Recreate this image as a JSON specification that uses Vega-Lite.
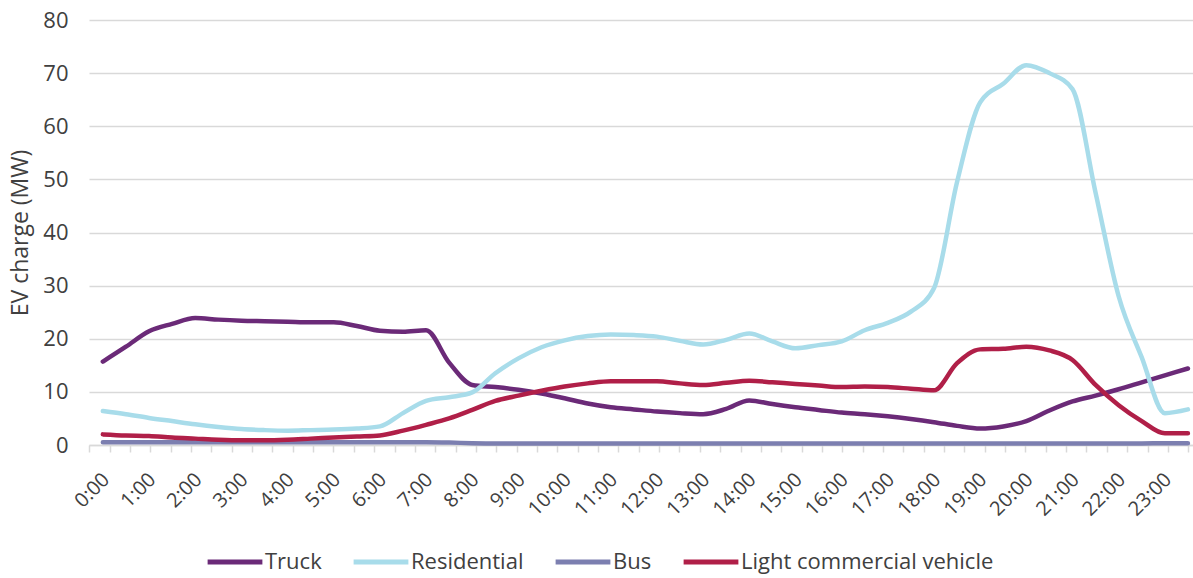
{
  "$schema": "https://vega.github.io/schema/vega-lite/v6.json",
  "width": 1104,
  "height": 425,
  "autosize": {"type": "none"},
  "padding": {"left": 89, "top": 20, "right": 0, "bottom": 133},
  "background": "white",
  "config": {"font": "Open Sans", "view": {"stroke": null}},
  "data": {"values": [
    {"t":0,"Truck":15.7,"Residential":6.4,"Bus":0.5,"Light commercial vehicle":2.0},
    {"t":0.5,"Truck":18.5,"Residential":5.8,"Bus":0.5,"Light commercial vehicle":1.8},
    {"t":1,"Truck":21.4,"Residential":5.1,"Bus":0.5,"Light commercial vehicle":1.7},
    {"t":1.5,"Truck":22.8,"Residential":4.5,"Bus":0.5,"Light commercial vehicle":1.4},
    {"t":2,"Truck":23.9,"Residential":3.9,"Bus":0.5,"Light commercial vehicle":1.2},
    {"t":2.5,"Truck":23.6,"Residential":3.4,"Bus":0.5,"Light commercial vehicle":1.0},
    {"t":3,"Truck":23.4,"Residential":3.0,"Bus":0.5,"Light commercial vehicle":0.9},
    {"t":3.5,"Truck":23.3,"Residential":2.8,"Bus":0.5,"Light commercial vehicle":0.9},
    {"t":4,"Truck":23.2,"Residential":2.7,"Bus":0.5,"Light commercial vehicle":1.0},
    {"t":4.5,"Truck":23.1,"Residential":2.8,"Bus":0.5,"Light commercial vehicle":1.2},
    {"t":5,"Truck":23.1,"Residential":2.9,"Bus":0.5,"Light commercial vehicle":1.4},
    {"t":5.5,"Truck":22.4,"Residential":3.1,"Bus":0.5,"Light commercial vehicle":1.6},
    {"t":6,"Truck":21.5,"Residential":3.5,"Bus":0.5,"Light commercial vehicle":1.8},
    {"t":6.5,"Truck":21.3,"Residential":6.0,"Bus":0.5,"Light commercial vehicle":2.7},
    {"t":7,"Truck":21.6,"Residential":8.3,"Bus":0.5,"Light commercial vehicle":3.8},
    {"t":7.5,"Truck":15.5,"Residential":9.0,"Bus":0.45,"Light commercial vehicle":5.0},
    {"t":8,"Truck":11.3,"Residential":9.9,"Bus":0.35,"Light commercial vehicle":6.6},
    {"t":8.5,"Truck":10.9,"Residential":13.5,"Bus":0.3,"Light commercial vehicle":8.3},
    {"t":9,"Truck":10.4,"Residential":16.3,"Bus":0.3,"Light commercial vehicle":9.3},
    {"t":9.5,"Truck":9.7,"Residential":18.4,"Bus":0.3,"Light commercial vehicle":10.2},
    {"t":10,"Truck":8.8,"Residential":19.7,"Bus":0.3,"Light commercial vehicle":11.0},
    {"t":10.5,"Truck":7.8,"Residential":20.5,"Bus":0.3,"Light commercial vehicle":11.6},
    {"t":11,"Truck":7.1,"Residential":20.8,"Bus":0.3,"Light commercial vehicle":12.0},
    {"t":11.5,"Truck":6.7,"Residential":20.7,"Bus":0.3,"Light commercial vehicle":12.0},
    {"t":12,"Truck":6.3,"Residential":20.4,"Bus":0.3,"Light commercial vehicle":12.0},
    {"t":12.5,"Truck":6.0,"Residential":19.6,"Bus":0.3,"Light commercial vehicle":11.6},
    {"t":13,"Truck":5.8,"Residential":18.9,"Bus":0.3,"Light commercial vehicle":11.3},
    {"t":13.5,"Truck":6.8,"Residential":19.8,"Bus":0.3,"Light commercial vehicle":11.7},
    {"t":14,"Truck":8.4,"Residential":21.0,"Bus":0.3,"Light commercial vehicle":12.1},
    {"t":14.5,"Truck":7.7,"Residential":19.5,"Bus":0.3,"Light commercial vehicle":11.8},
    {"t":15,"Truck":7.1,"Residential":18.2,"Bus":0.3,"Light commercial vehicle":11.5},
    {"t":15.5,"Truck":6.6,"Residential":18.8,"Bus":0.3,"Light commercial vehicle":11.2},
    {"t":16,"Truck":6.1,"Residential":19.5,"Bus":0.3,"Light commercial vehicle":10.9},
    {"t":16.5,"Truck":5.8,"Residential":21.6,"Bus":0.3,"Light commercial vehicle":11.0},
    {"t":17,"Truck":5.4,"Residential":23.0,"Bus":0.3,"Light commercial vehicle":10.9},
    {"t":17.5,"Truck":4.9,"Residential":25.1,"Bus":0.3,"Light commercial vehicle":10.6},
    {"t":18,"Truck":4.3,"Residential":29.5,"Bus":0.3,"Light commercial vehicle":10.3},
    {"t":18.5,"Truck":3.6,"Residential":49.5,"Bus":0.3,"Light commercial vehicle":15.4},
    {"t":19,"Truck":3.1,"Residential":64.5,"Bus":0.3,"Light commercial vehicle":18.0},
    {"t":19.5,"Truck":3.5,"Residential":68.0,"Bus":0.3,"Light commercial vehicle":18.1},
    {"t":20,"Truck":4.5,"Residential":71.5,"Bus":0.3,"Light commercial vehicle":18.5},
    {"t":20.5,"Truck":6.5,"Residential":70.0,"Bus":0.3,"Light commercial vehicle":17.8},
    {"t":21,"Truck":8.2,"Residential":67.0,"Bus":0.3,"Light commercial vehicle":16.0},
    {"t":21.5,"Truck":9.3,"Residential":47.5,"Bus":0.3,"Light commercial vehicle":11.3},
    {"t":22,"Truck":10.5,"Residential":28.0,"Bus":0.3,"Light commercial vehicle":7.5},
    {"t":22.5,"Truck":11.8,"Residential":16.5,"Bus":0.3,"Light commercial vehicle":4.5},
    {"t":23,"Truck":13.1,"Residential":6.0,"Bus":0.35,"Light commercial vehicle":2.2},
    {"t":23.5,"Truck":14.4,"Residential":6.7,"Bus":0.35,"Light commercial vehicle":2.2}
  ]},
  "transform": [
    {"fold": ["Truck", "Residential", "Bus", "Light commercial vehicle"], "as": ["series", "value"]}
  ],
  "encoding": {
    "y": {
      "field": "value", "type": "quantitative",
      "scale": {"domain": [0, 80]},
      "axis": {
        "values": [0,10,20,30,40,50,60,70,80],
        "title": "EV charge (MW)", "domain": false, "ticks": false,
        "gridColor": "#d9d9d9", "gridWidth": 1.5,
        "labelFontSize": 22, "labelColor": "#404040", "labelPadding": 21,
        "titleFontSize": 23, "titleFontWeight": "normal", "titleColor": "#404040", "titlePadding": 10
      }
    },
    "color": {
      "field": "series", "type": "nominal",
      "scale": {"domain": ["Truck", "Residential", "Bus", "Light commercial vehicle"], "range": ["#6b2a78", "#a8dcea", "#7c7fb0", "#b01f48"]},
      "legend": {
        "orient": "none", "legendX": 116, "legendY": 512, "direction": "horizontal", "title": null,
        "symbolType": "stroke", "symbolSize": 3000, "symbolStrokeWidth": 5,
        "labelFontSize": 22, "labelColor": "#404040", "columnPadding": 21, "labelOffset": 0, "labelLimit": 400
      }
    }
  },
  "layer": [
    {
      "mark": {"type": "line", "opacity": 0},
      "encoding": {
        "x": {
          "field": "t", "type": "quantitative",
          "scale": {"domain": [-0.3, 23.61], "nice": false, "zero": false},
          "axis": {
            "orient": "bottom", "title": null, "grid": false, "labels": false, "domain": false,
            "values": [-0.2946,0.146,0.587,1.028,1.468,1.909,2.350,2.791,3.231,3.672,4.113,4.554,4.994,5.435,5.876,6.317,6.758,7.198,7.639,8.080,8.521,8.961,9.402,9.843,10.284,10.724,11.165,11.606,12.047,12.488,12.928,13.369,13.810,14.251,14.691,15.132,15.573,16.014,16.454,16.895,17.336,17.777,18.217,18.658,19.099,19.540,19.981,20.421,20.862,21.303,21.744,22.184,22.625,23.066,23.507],
            "tickColor": "#d9d9d9", "tickSize": 7, "tickWidth": 1.5
          }
        }
      }
    },
    {
      "mark": {"type": "line", "interpolate": "monotone", "strokeWidth": 4.5, "strokeCap": "round", "strokeJoin": "round"},
      "encoding": {
        "x": {
          "field": "t", "type": "quantitative",
          "scale": {"domain": [-0.3, 23.61], "nice": false, "zero": false},
          "axis": {
            "orient": "bottom",
            "values": [0,1,2,3,4,5,6,7,8,9,10,11,12,13,14,15,16,17,18,19,20,21,22,23],
            "labelExpr": "datum.value + ':00'", "labelOverlap": false,
            "title": null, "grid": false, "labelAngle": -45, "ticks": false,
            "labelFontSize": 20, "labelColor": "#404040", "labelPadding": 24, "labelOffset": -4,
            "domainColor": "#d9d9d9", "domainWidth": 1.5
          }
        }
      }
    }
  ],
  "resolve": {"axis": {"x": "independent"}}
}
